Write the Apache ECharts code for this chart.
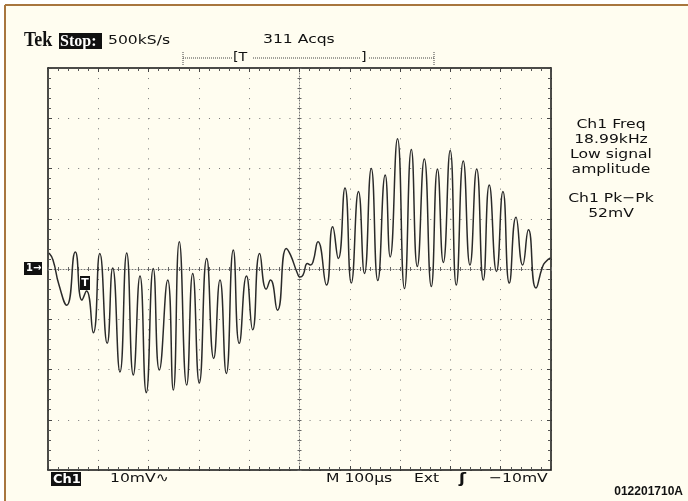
<!DOCTYPE html>
<html><head><meta charset="utf-8">
<script src="https://cdn.jsdelivr.net/npm/echarts@6/dist/echarts.min.js"></script>
<style>html,body{margin:0;padding:0;background:#fff}#c{width:688px;height:501px}</style>
</head><body><div id="c"></div>
<script>
// Time relative to screen centre (µs), 100 µs/div, 10 divisions
const timeUs = [-498.0,-490.1,-478.1,-462.8,-445.7,-432.4,-423.5,-409.9,-397.0,-382.3,-371.4,-356.9,-343.5,-330.4,-317.1,-304.6,-290.7,-278.7,-262.0,-250.9,-239.0,-224.3,-212.3,-199.2,-184.5,-170.6,-158.1,-145.5,-131.6,-119.7,-105.4,-93.1,-79.1,-66.0,-57.7,-43.8,-26.3,-17.9,-4.0,1.0,6.9,15.9,21.9,26.8,36.8,53.7,66.0,77.1,90.4,103.0,117.3,129.2,142.7,155.7,170.4,180.3,194.8,208.7,222.3,234.2,248.1,262.0,274.3,285.9,299.6,311.7,325.6,338.9,352.3,365.4,377.3,391.6,404.5,417.1,430.4,443.7,455.2,470.1,483.4,490.0,499.0];
// Channel 1 voltage (mV), 10 mV/div
const ch1mV = [3.2,1.8,-3.2,-7.2,3.4,-6.2,-4.4,-12.7,3.1,-14.8,0.2,-20.5,3.2,-21.1,-1.4,-24.6,0.1,-20.1,-2.2,-24.1,5.4,-23.1,-0.9,-22.7,2.1,-17.8,-2.2,-20.8,3.8,-14.8,-1.4,-12.1,3.1,-4.0,-2.2,-8.2,4.1,2.8,-0.9,-1.6,-1.2,1.1,0.8,1.4,5.4,-3.2,8.4,2.1,16.1,-2.8,15.4,-0.9,20.0,-2.3,18.7,2.4,25.9,-3.9,23.8,0.5,21.9,-3.5,19.9,1.3,23.6,-3.2,21.5,0.8,19.9,-2.2,16.7,-0.5,15.4,-2.8,10.3,0.8,7.8,-3.8,0.5,1.5,2.2];
const xRange = [-500, 500, 100];   // min, max, µs per division
const yRange = [-40, 40, 10];      // min, max, mV per division
const readout1 = ['Ch1 Freq', '18.99kHz', 'Low signal', 'amplitude'];
const readout2 = ['Ch1 Pk\u2212Pk', '52mV'];
const headerTexts = ['Tek', 'Stop:', '500kS/s', '311 Acqs'];
const footerTexts = ['Ch1', '10mV\u223F', 'M 100\u00B5s', 'Ext', '\u0283', '\u221210mV', '012201710A'];

const CREAM = '#FFFDF0';
const OSC = '13px "DejaVu Sans"';
const SX = 1.2;

function mkX(extra) {
  return Object.assign({
    type: 'value', min: xRange[0], max: xRange[1], interval: xRange[2],
    axisLabel: { show: false }, splitLine: { show: false }
  }, extra);
}
function mkY(extra) {
  return Object.assign({
    type: 'value', min: yRange[0], max: yRange[1], interval: yRange[2],
    axisLabel: { show: false }, splitLine: { show: false }
  }, extra);
}
const borderLine = { show: true, onZero: false, lineStyle: { color: '#111', width: 1.5 } };
const inTick = { show: true, inside: true, length: 4, lineStyle: { color: '#444', width: 1 } };
const minTick = { show: true, splitNumber: 5, length: 3, lineStyle: { color: '#555', width: 1 } };
const cLine = { show: true, onZero: true, onZeroAxisIndex: 0, lineStyle: { color: '#777', width: 1, type: [1, 2] } };
const cLineHidden = { show: true, onZero: true, onZeroAxisIndex: 0, lineStyle: { color: 'rgba(0,0,0,0)', width: 1 } };
const cTickIn = { show: true, inside: true, length: 2, lineStyle: { color: '#666', width: 1 } };
const cTickOut = { show: true, inside: false, length: 2, lineStyle: { color: '#666', width: 1 } };
const cMinor = { show: true, splitNumber: 5, length: 2, lineStyle: { color: '#666', width: 1 } };

const chart = echarts.init(document.getElementById('c'), null, { renderer: 'canvas' });

function txt(x, y, text, opt) {
  opt = opt || {};
  return {
    type: 'text', x: x, y: y, scaleX: opt.sx == null ? SX : opt.sx, z: 100,
    style: {
      text: text, font: opt.font || OSC, fill: opt.fill || '#111',
      align: opt.align || 'left', verticalAlign: 'middle'
    }
  };
}

const graphics = [
  // outer white margin and tan frame
  { type: 'rect', shape: { x: 0, y: 0, width: 688, height: 4 }, style: { fill: '#fff' }, z: 100 },
  { type: 'rect', shape: { x: 0, y: 0, width: 4, height: 501 }, style: { fill: '#fff' }, z: 100 },
  { type: 'line', shape: { x1: 5, y1: 5, x2: 688, y2: 5 }, style: { stroke: '#A8763E', lineWidth: 2 }, z: 100 },
  { type: 'line', shape: { x1: 5, y1: 5, x2: 5, y2: 501 }, style: { stroke: '#A8763E', lineWidth: 2 }, z: 100 },
  // header
  txt(24, 41, headerTexts[0], { font: 'bold 20px "Liberation Serif"', sx: 0.9 }),
  { type: 'rect', shape: { x: 59, y: 33, width: 43, height: 16 }, style: { fill: '#111' }, z: 100 },
  txt(60, 41.5, headerTexts[1], { font: 'bold 16px "Liberation Serif"', fill: '#fff', sx: 1.0 }),
  txt(108, 41, headerTexts[2]),
  txt(263, 40, headerTexts[3]),
  // trigger ruler
  { type: 'line', shape: { x1: 183, y1: 58, x2: 434, y2: 58 }, style: { stroke: '#444', lineWidth: 1, lineDash: [1, 1] }, z: 100 },
  { type: 'line', shape: { x1: 183, y1: 52, x2: 183, y2: 65 }, style: { stroke: '#444', lineWidth: 1, lineDash: [1, 1] }, z: 100 },
  { type: 'line', shape: { x1: 434, y1: 52, x2: 434, y2: 65 }, style: { stroke: '#444', lineWidth: 1, lineDash: [1, 1] }, z: 100 },
  { type: 'rect', shape: { x: 232, y: 51, width: 20, height: 14 }, style: { fill: CREAM }, z: 100 },
  txt(233, 58, '[T', { sx: 1.1 }),
  { type: 'rect', shape: { x: 360, y: 51, width: 8, height: 14 }, style: { fill: CREAM }, z: 100 },
  txt(361, 58, ']', { sx: 1.1 }),
  // channel marker
  { type: 'rect', shape: { x: 24, y: 262, width: 18, height: 13 }, style: { fill: '#111' }, z: 100 },
  txt(26, 268.5, '1\u2192', { font: 'bold 11px "DejaVu Sans"', fill: '#fff', sx: 0.9 }),
  // trigger point marker
  { type: 'rect', shape: { x: 80, y: 276, width: 10, height: 14 }, style: { fill: '#111' }, z: 100 },
  txt(85, 283, 'T', { font: 'bold 11px "DejaVu Sans"', fill: '#fff', align: 'center', sx: 1.0 }),
  // footer
  { type: 'rect', shape: { x: 51, y: 472, width: 30, height: 14 }, style: { fill: '#111' }, z: 100 },
  txt(53, 479.5, footerTexts[0], { font: 'bold 13px "DejaVu Sans"', fill: '#fff', sx: 1.0 }),
  txt(110, 479, footerTexts[1]),
  txt(326, 479, footerTexts[2]),
  txt(414, 479, footerTexts[3]),
  txt(459, 479, footerTexts[4], { font: 'bold 14px "DejaVu Sans"' }),
  txt(489, 479, footerTexts[5]),
  txt(683, 492, footerTexts[6], { font: 'bold 12px "Liberation Sans"', align: 'right', sx: 1.0 })
];
readout1.forEach(function (s, i) { graphics.push(txt(611, 125 + i * 15, s, { align: 'center' })); });
readout2.forEach(function (s, i) { graphics.push(txt(611, 199 + i * 14.5, s, { align: 'center' })); });

chart.setOption({
  animation: false,
  backgroundColor: CREAM,
  grid: { left: 48, top: 68, width: 503, height: 402, containLabel: false, outerBoundsMode: 'none' },
  xAxis: [
    mkX({ position: 'bottom', axisLine: borderLine, axisTick: inTick, minorTick: minTick,
      splitLine: { show: true, lineStyle: { color: '#777', width: 1, type: [1, 9.05] } } }),
    mkX({ position: 'top', axisLine: borderLine, axisTick: inTick, minorTick: minTick }),
    mkX({ position: 'bottom', axisLine: cLine, axisTick: cTickIn, minorTick: cMinor }),
    mkX({ position: 'bottom', axisLine: cLineHidden, axisTick: cTickOut, minorTick: cMinor })
  ],
  yAxis: [
    mkY({ position: 'left', axisLine: borderLine, axisTick: inTick, minorTick: minTick,
      splitLine: { show: true, lineStyle: { color: '#777', width: 1, type: [1, 9.06] } } }),
    mkY({ position: 'right', axisLine: borderLine, axisTick: inTick, minorTick: minTick }),
    mkY({ position: 'left', axisLine: cLine, axisTick: cTickIn, minorTick: cMinor }),
    mkY({ position: 'left', axisLine: cLineHidden, axisTick: cTickOut, minorTick: cMinor })
  ],
  series: [{
    type: 'line', xAxisIndex: 0, yAxisIndex: 0, z: 10,
    data: timeUs.map(function (t, i) { return [t, ch1mV[i]]; }),
    showSymbol: false, smooth: 0.55,
    lineStyle: { color: '#2a2a2a', width: 1.5 }
  }],
  graphic: graphics
});
</script></body></html>
